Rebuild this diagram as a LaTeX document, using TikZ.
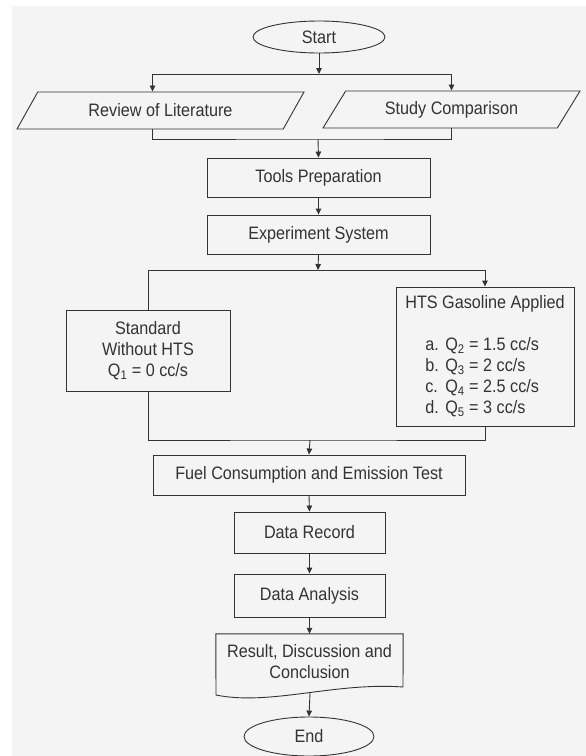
\documentclass[tikz,border=0pt]{standalone}
\usepackage{fontspec}
\setmainfont{Liberation Sans}[FakeStretch=0.9]
\usetikzlibrary{shapes.geometric,arrows.meta}
\definecolor{bg}{HTML}{F4F4F4}
\definecolor{ink}{HTML}{333333}
\begin{document}
\begin{tikzpicture}[x=1pt,y=-1pt,
  every node/.style={font=\fontsize{18}{21}\selectfont, text=ink, inner sep=0pt},
  ln/.style={draw=ink, line width=0.9pt},
  arr/.style={ln, -{Triangle[length=6pt,width=5.5pt]}},
  box/.style={ln, rectangle, align=center},
  term/.style={ln, ellipse},
  para/.style={ln, trapezium, trapezium stretches body, minimum height=37pt}]
\useasboundingbox (0,0) rectangle (586,756);
\fill[white] (0,0) rectangle (586,756);
\fill[bg] (12,6) rectangle (586,756);

\node[term, minimum width=132pt, minimum height=32pt] (start) at (319,37) {Start};
\node[para, trapezium left angle=32.5, trapezium right angle=147.5, minimum width=287pt] (lit) at (160.5,110.5) {Review of Literature};
\node[para, trapezium left angle=36.5, trapezium right angle=143.5, minimum width=257pt] (sc) at (451.5,109.5) {Study Comparison};
\node[box, minimum width=223pt, minimum height=39pt] (tools) at (318.5,177.5) {Tools Preparation};
\node[box, minimum width=223pt, minimum height=39pt] (exp) at (318.5,234.5) {Experiment System};
\node[box, minimum width=164pt, minimum height=81pt] (std) at (148,350.5) {Standard\\Without HTS\\Q\textsubscript{1} = 0 cc/s};
\node[box, align=left, minimum width=178pt, minimum height=139pt] (hts) at (485,356.5)
  {HTS Gasoline Applied\\[21pt]
   \hspace*{20pt}\makebox[20pt][l]{a.}Q\textsubscript{2} = 1.5 cc/s\\
   \hspace*{20pt}\makebox[20pt][l]{b.}Q\textsubscript{3} = 2 cc/s\\
   \hspace*{20pt}\makebox[20pt][l]{c.}Q\textsubscript{4} = 2.5 cc/s\\
   \hspace*{20pt}\makebox[20pt][l]{d.}Q\textsubscript{5} = 3 cc/s};
\node[box, minimum width=312pt, minimum height=40pt] (fuel) at (309,475) {Fuel Consumption and Emission Test};
\node[box, minimum width=151pt, minimum height=41pt] (rec) at (309.5,532.5) {Data Record};
\node[box, minimum width=151pt, minimum height=43pt] (ana) at (309.5,595.5) {Data Analysis};
\node[align=center, minimum width=187pt, minimum height=56pt] (doc) at (309.5,662) {Result, Discussion and\\Conclusion};
\draw[ln] (216,695) -- (doc.north west) -- (doc.north east) -- (403,687)
  .. controls (335,682) and (270,706) .. (216,695) -- cycle;
\node[term, minimum width=130pt, minimum height=39pt] (end) at (309,736.5) {End};

\coordinate (b1) at (319,74);
\coordinate (j1) at (318,139);
\coordinate (b2) at (318,270);
\coordinate (j2) at (310,440);
\coordinate (docb) at (310,693);

\draw[arr] (start.south) -- (b1);
\draw[arr] (b1) -| ([xshift=-8pt]lit.north);
\draw[arr] (b1) -| (sc.north);
\draw[ln] ([xshift=-8pt]lit.south) |- (j1) -| (sc.south);
\draw[arr] (j1) -- (tools.north);
\draw[arr] (tools.south) -- (exp.north);
\draw[arr] (exp.south) -- (b2);
\draw[ln] (b2) -| (std.north);
\draw[arr] (b2) -| (hts.north);
\draw[ln] (std.south) |- (j2) -| (hts.south);
\draw[arr] (j2) -- (fuel.north);
\draw[arr] (fuel.south) -- (rec.north);
\draw[arr] (rec.south) -- (ana.north);
\draw[arr] (ana.south) -- (doc.north);
\draw[arr] (docb) -- (end.north);
\end{tikzpicture}
\end{document}
